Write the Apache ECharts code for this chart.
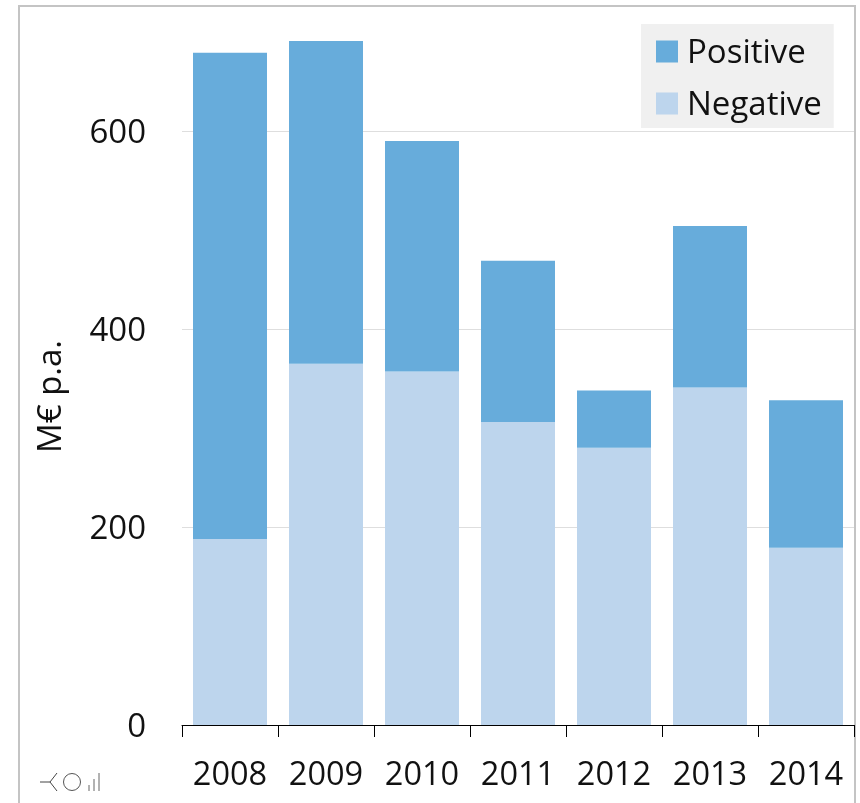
<!DOCTYPE html>
<html>
<head>
<meta charset="utf-8">
<style>html,body{margin:0;padding:0;background:#fff}#c{width:860px;height:803px}</style>
<script src="https://cdn.jsdelivr.net/npm/echarts@6/dist/echarts.min.js"></script>
</head>
<body>
<div id="c"></div>
<script>
const categories = ['2008','2009','2010','2011','2012','2013','2014'];
const negative = [188,365,357,306,280,341,179];
const positive = [491,326,233,163,58,163,149];
const yMax = 700;
const yStep = 200;
const font = '"Open Sans", sans-serif';
const ink = '#111111';
const chart = echarts.init(document.getElementById('c'), null, {renderer:'canvas'});
chart.setOption({
  animation:false,
  backgroundColor:'#ffffff',
  grid:{left:182,right:6,top:32,bottom:78},
  legend:{
    data:['Positive','Negative'],orient:'vertical',left:641,top:24,
    backgroundColor:'#f0f0f0',padding:[9,12,6,15],borderRadius:0,
    itemWidth:22,itemHeight:22,itemGap:15,selectedMode:false,
    icon:'rect',
    formatter:function(name){return '{t|'+name+'}';},
    textStyle:{fontFamily:font,fontSize:33,color:ink,
      rich:{t:{fontFamily:font,fontSize:33,color:ink,padding:[4,0,0,4],lineHeight:36}}}
  },
  xAxis:{
    type:'category',data:categories,
    axisLine:{lineStyle:{color:'#000',width:1}},
    axisTick:{show:true,interval:0,length:12,alignWithLabel:false,lineStyle:{color:'#000',width:1}},
    axisLabel:{interval:0,hideOverlap:false,fontFamily:font,fontSize:32.5,color:ink,margin:34}
  },
  yAxis:{
    type:'value',min:0,max:yMax,interval:yStep,
    name:'M€ p.a.',nameLocation:'middle',nameGap:114,
    nameTextStyle:{fontFamily:font,fontSize:33,color:ink,padding:[0,36,0,0]},
    axisLine:{show:false},axisTick:{show:false},
    splitLine:{show:true,showMaxLine:false,lineStyle:{color:'#dedede',width:1}},
    axisLabel:{fontFamily:font,fontSize:33,color:ink,margin:36,showMaxLabel:false,verticalAlign:'top',lineHeight:6}
  },
  series:[
    {name:'Negative',type:'bar',stack:'t',barWidth:74,data:negative,itemStyle:{color:'#bdd5ed'}},
    {name:'Positive',type:'bar',stack:'t',barWidth:74,data:positive,itemStyle:{color:'#67acdb'}}
  ],
  graphic:[
    {type:'rect',silent:true,z:-1,shape:{x:19,y:6,width:836,height:810},style:{fill:'none',stroke:'#c4c4c4',lineWidth:2}},
    {type:'polyline',silent:true,shape:{points:[[40,782],[50,782],[57,773]]},style:{fill:'none',stroke:'#444',lineWidth:1}},
    {type:'line',silent:true,shape:{x1:50,y1:782,x2:57,y2:791},style:{stroke:'#444',lineWidth:1}},
    {type:'circle',silent:true,shape:{cx:72,cy:782,r:8.5},style:{fill:'none',stroke:'#555',lineWidth:1}},
    {type:'line',silent:true,shape:{x1:89,y1:785,x2:89,y2:791},style:{stroke:'#666',lineWidth:1}},
    {type:'line',silent:true,shape:{x1:94,y1:779,x2:94,y2:791},style:{stroke:'#666',lineWidth:1}},
    {type:'line',silent:true,shape:{x1:99,y1:773,x2:99,y2:791},style:{stroke:'#666',lineWidth:1}}
  ]
});
</script>
</body>
</html>
